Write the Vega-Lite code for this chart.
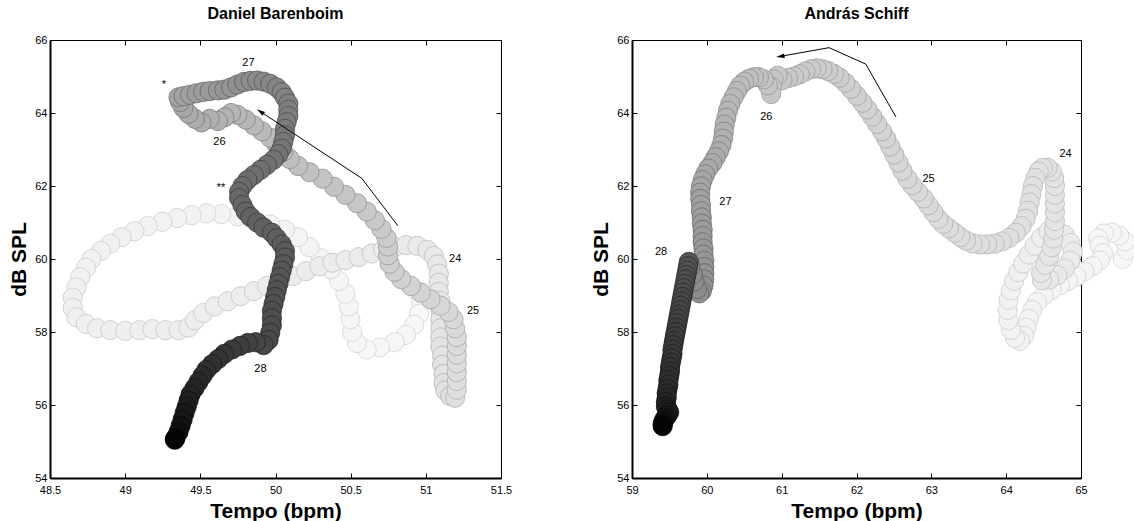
{
 "$schema": "https://vega.github.io/schema/vega-lite/v6.json",
 "background": "white",
 "padding": {"left": 8, "right": 0, "top": 5, "bottom": 0},
 "spacing": 77,
 "resolve": {"scale": {"x": "independent", "y": "independent", "fill": "independent", "stroke": "independent"}},
 "config": {
  "font": "Liberation Sans",
  "view": {"stroke": "#000", "strokeWidth": 1},
  "title": {"fontSize": 16, "fontWeight": "bold", "color": "#000", "offset": 12, "anchor": "middle", "font": "Liberation Sans"},
  "axis": {"grid": false, "domainColor": "#000", "domainWidth": 2, "tickColor": "#000", "tickWidth": 1, "tickSize": -5, "labelPadding": 8, "labelFontSize": 11, "labelColor": "#000", "labelFlush": false, "labelOverlap": false, "labelFont": "Liberation Sans", "titleFont": "Liberation Sans", "titleFontSize": 21, "titleFontWeight": "bold", "titleColor": "#000", "titlePadding": 5},
  "axisX": {"labelPadding": 11}
 },
 "datasets": {
  "B": [
   {"t":23.00,"x":50.944,"y":59.1},{"t":23.02,"x":50.966,"y":58.8},{"t":23.03,"x":50.955,"y":58.5},{"t":23.05,"x":50.923,"y":58.2},{"t":23.06,"x":50.868,"y":57.92},{"t":23.08,"x":50.792,"y":57.72},{"t":23.09,"x":50.694,"y":57.58},{"t":23.11,"x":50.607,"y":57.52},{"t":23.12,"x":50.542,"y":57.7},{"t":23.14,"x":50.509,"y":58.0},{"t":23.16,"x":50.498,"y":58.35},{"t":23.17,"x":50.487,"y":58.7},{"t":23.19,"x":50.465,"y":59.05},{"t":23.2,"x":50.422,"y":59.4},{"t":23.22,"x":50.368,"y":59.72},{"t":23.24,"x":50.302,"y":60.02},{"t":23.25,"x":50.226,"y":60.32},{"t":23.27,"x":50.15,"y":60.6},{"t":23.28,"x":50.063,"y":60.8},{"t":23.3,"x":49.965,"y":60.95},{"t":23.31,"x":49.856,"y":61.07},{"t":23.33,"x":49.747,"y":61.17},{"t":23.35,"x":49.638,"y":61.23},{"t":23.36,"x":49.54,"y":61.25},{"t":23.38,"x":49.442,"y":61.2},{"t":23.39,"x":49.345,"y":61.12},{"t":23.41,"x":49.247,"y":61.02},{"t":23.43,"x":49.149,"y":60.9},{"t":23.44,"x":49.062,"y":60.76},{"t":23.46,"x":48.976,"y":60.6},{"t":23.47,"x":48.901,"y":60.42},{"t":23.49,"x":48.839,"y":60.22},{"t":23.5,"x":48.776,"y":60.0},{"t":23.52,"x":48.739,"y":59.76},{"t":23.54,"x":48.701,"y":59.5},{"t":23.55,"x":48.676,"y":59.22},{"t":23.57,"x":48.651,"y":58.94},{"t":23.58,"x":48.651,"y":58.66},{"t":23.6,"x":48.676,"y":58.4},{"t":23.62,"x":48.739,"y":58.22},{"t":23.63,"x":48.813,"y":58.1},{"t":23.65,"x":48.901,"y":58.05},{"t":23.66,"x":49.001,"y":58.03},{"t":23.68,"x":49.094,"y":58.05},{"t":23.69,"x":49.181,"y":58.08},{"t":23.71,"x":49.268,"y":58.05},{"t":23.73,"x":49.355,"y":58.05},{"t":23.74,"x":49.421,"y":58.12},{"t":23.76,"x":49.464,"y":58.32},{"t":23.77,"x":49.519,"y":58.52},{"t":23.79,"x":49.595,"y":58.7},{"t":23.8,"x":49.682,"y":58.84},{"t":23.82,"x":49.769,"y":58.98},{"t":23.84,"x":49.856,"y":59.12},{"t":23.85,"x":49.943,"y":59.26},{"t":23.87,"x":50.03,"y":59.4},{"t":23.88,"x":50.117,"y":59.53},{"t":23.9,"x":50.204,"y":59.67},{"t":23.92,"x":50.291,"y":59.8},{"t":23.93,"x":50.378,"y":59.9},{"t":23.95,"x":50.465,"y":59.97},{"t":23.96,"x":50.553,"y":60.05},{"t":23.98,"x":50.64,"y":60.15},{"t":23.99,"x":50.716,"y":60.25},
   {"t":24.0,"x":50.792,"y":60.33},{"t":24.03,"x":50.868,"y":60.38},{"t":24.06,"x":50.944,"y":60.36},{"t":24.09,"x":51.01,"y":60.25},{"t":24.12,"x":51.053,"y":60.08},{"t":24.15,"x":51.075,"y":59.85},{"t":24.18,"x":51.086,"y":59.6},{"t":24.21,"x":51.086,"y":59.35},{"t":24.24,"x":51.086,"y":59.1},{"t":24.27,"x":51.097,"y":58.85},{"t":24.3,"x":51.097,"y":58.6},{"t":24.33,"x":51.097,"y":58.35},{"t":24.36,"x":51.097,"y":58.1},{"t":24.39,"x":51.097,"y":57.85},{"t":24.42,"x":51.097,"y":57.6},{"t":24.45,"x":51.108,"y":57.35},{"t":24.48,"x":51.108,"y":57.1},{"t":24.51,"x":51.118,"y":56.85},{"t":24.54,"x":51.118,"y":56.6},{"t":24.57,"x":51.129,"y":56.4},{"t":24.6,"x":51.162,"y":56.25},{"t":24.63,"x":51.195,"y":56.2},{"t":24.67,"x":51.206,"y":56.42},{"t":24.71,"x":51.206,"y":56.66},{"t":24.75,"x":51.206,"y":56.9},{"t":24.79,"x":51.206,"y":57.14},{"t":24.83,"x":51.206,"y":57.38},{"t":24.87,"x":51.206,"y":57.62},{"t":24.91,"x":51.206,"y":57.86},{"t":24.95,"x":51.195,"y":58.1},
   {"t":25.0,"x":51.184,"y":58.35},{"t":25.03,"x":51.151,"y":58.55},{"t":25.06,"x":51.097,"y":58.72},{"t":25.1,"x":51.031,"y":58.9},{"t":25.13,"x":50.966,"y":59.08},{"t":25.17,"x":50.901,"y":59.26},{"t":25.2,"x":50.836,"y":59.45},{"t":25.24,"x":50.792,"y":59.65},{"t":25.27,"x":50.759,"y":59.87},{"t":25.3,"x":50.748,"y":60.1},{"t":25.34,"x":50.748,"y":60.34},{"t":25.37,"x":50.738,"y":60.58},{"t":25.41,"x":50.705,"y":60.82},{"t":25.44,"x":50.661,"y":61.06},{"t":25.48,"x":50.607,"y":61.3},{"t":25.51,"x":50.542,"y":61.53},{"t":25.55,"x":50.465,"y":61.76},{"t":25.58,"x":50.389,"y":61.98},{"t":25.62,"x":50.313,"y":62.2},{"t":25.65,"x":50.226,"y":62.38},{"t":25.69,"x":50.15,"y":62.55},{"t":25.72,"x":50.095,"y":62.74},{"t":25.76,"x":50.052,"y":62.94},{"t":25.79,"x":50.008,"y":63.13},{"t":25.83,"x":49.965,"y":63.32},{"t":25.86,"x":49.91,"y":63.5},{"t":25.9,"x":49.856,"y":63.66},{"t":25.93,"x":49.802,"y":63.82},{"t":25.97,"x":49.747,"y":63.95},
   {"t":26.0,"x":49.704,"y":64.0},{"t":26.04,"x":49.66,"y":63.88},{"t":26.08,"x":49.617,"y":63.78},{"t":26.12,"x":49.562,"y":63.84},{"t":26.16,"x":49.508,"y":63.74},{"t":26.2,"x":49.464,"y":63.84},{"t":26.25,"x":49.421,"y":63.98},{"t":26.3,"x":49.388,"y":64.14},{"t":26.35,"x":49.366,"y":64.3},{"t":26.4,"x":49.355,"y":64.43},{"t":26.45,"x":49.388,"y":64.46},{"t":26.5,"x":49.432,"y":64.5},{"t":26.55,"x":49.475,"y":64.54},{"t":26.6,"x":49.519,"y":64.58},{"t":26.65,"x":49.562,"y":64.6},{"t":26.7,"x":49.617,"y":64.62},{"t":26.75,"x":49.66,"y":64.64},{"t":26.8,"x":49.704,"y":64.7},{"t":26.87,"x":49.747,"y":64.78},{"t":26.94,"x":49.791,"y":64.85},
   {"t":27.0,"x":49.834,"y":64.88},{"t":27.02,"x":49.878,"y":64.89},{"t":27.04,"x":49.921,"y":64.86},{"t":27.07,"x":49.965,"y":64.8},{"t":27.09,"x":50.008,"y":64.7},{"t":27.11,"x":50.041,"y":64.57},{"t":27.13,"x":50.063,"y":64.42},{"t":27.15,"x":50.085,"y":64.26},{"t":27.17,"x":50.085,"y":64.09},{"t":27.2,"x":50.085,"y":63.92},{"t":27.22,"x":50.074,"y":63.75},{"t":27.24,"x":50.063,"y":63.57},{"t":27.26,"x":50.063,"y":63.39},{"t":27.28,"x":50.052,"y":63.21},{"t":27.3,"x":50.041,"y":63.03},{"t":27.33,"x":50.019,"y":62.87},{"t":27.35,"x":49.987,"y":62.72},{"t":27.37,"x":49.943,"y":62.58},{"t":27.39,"x":49.9,"y":62.44},{"t":27.41,"x":49.856,"y":62.3},{"t":27.43,"x":49.813,"y":62.16},{"t":27.46,"x":49.78,"y":62.0},{"t":27.48,"x":49.758,"y":61.84},{"t":27.5,"x":49.758,"y":61.67},{"t":27.52,"x":49.78,"y":61.48},{"t":27.54,"x":49.802,"y":61.3},{"t":27.57,"x":49.834,"y":61.15},{"t":27.59,"x":49.878,"y":61.0},{"t":27.61,"x":49.921,"y":60.86},{"t":27.63,"x":49.976,"y":60.72},{"t":27.65,"x":50.008,"y":60.57},{"t":27.67,"x":50.041,"y":60.4},{"t":27.7,"x":50.063,"y":60.22},{"t":27.72,"x":50.063,"y":60.04},{"t":27.74,"x":50.052,"y":59.86},{"t":27.76,"x":50.041,"y":59.68},{"t":27.78,"x":50.03,"y":59.5},{"t":27.8,"x":50.019,"y":59.32},{"t":27.83,"x":50.008,"y":59.14},{"t":27.85,"x":49.998,"y":58.96},{"t":27.87,"x":49.987,"y":58.77},{"t":27.89,"x":49.976,"y":58.58},{"t":27.91,"x":49.976,"y":58.38},{"t":27.93,"x":49.976,"y":58.18},{"t":27.96,"x":49.965,"y":57.98},{"t":27.98,"x":49.954,"y":57.78},
   {"t":28.0,"x":49.921,"y":57.64},{"t":28.05,"x":49.869,"y":57.72},{"t":28.1,"x":49.816,"y":57.7},{"t":28.15,"x":49.764,"y":57.62},{"t":28.2,"x":49.711,"y":57.52},{"t":28.25,"x":49.659,"y":57.4},{"t":28.3,"x":49.619,"y":57.26},{"t":28.35,"x":49.579,"y":57.12},{"t":28.4,"x":49.54,"y":56.96},{"t":28.45,"x":49.514,"y":56.8},{"t":28.5,"x":49.487,"y":56.63},{"t":28.55,"x":49.461,"y":56.46},{"t":28.6,"x":49.435,"y":56.29},{"t":28.65,"x":49.422,"y":56.12},{"t":28.7,"x":49.409,"y":55.95},{"t":28.75,"x":49.395,"y":55.78},{"t":28.8,"x":49.382,"y":55.6},{"t":28.85,"x":49.369,"y":55.43},{"t":28.9,"x":49.355,"y":55.26},{"t":28.95,"x":49.335,"y":55.1},{"t":29.0,"x":49.33,"y":55.05}
  ],
  "S": [
   {"t":23.0,"x":65.557,"y":60.0},{"t":23.02,"x":65.611,"y":60.25},{"t":23.04,"x":65.59,"y":60.48},{"t":23.06,"x":65.513,"y":60.64},{"t":23.08,"x":65.415,"y":60.72},{"t":23.1,"x":65.306,"y":60.7},{"t":23.12,"x":65.23,"y":60.56},{"t":23.14,"x":65.252,"y":60.36},{"t":23.16,"x":65.295,"y":60.16},{"t":23.18,"x":65.252,"y":59.96},{"t":23.2,"x":65.154,"y":59.8},{"t":23.22,"x":65.045,"y":59.66},{"t":23.24,"x":64.936,"y":59.52},{"t":23.26,"x":64.827,"y":59.4},{"t":23.28,"x":64.718,"y":59.28},{"t":23.3,"x":64.609,"y":59.15},{"t":23.32,"x":64.5,"y":59.0},{"t":23.34,"x":64.412,"y":58.82},{"t":23.36,"x":64.347,"y":58.6},{"t":23.38,"x":64.303,"y":58.36},{"t":23.4,"x":64.271,"y":58.12},{"t":23.42,"x":64.238,"y":57.9},{"t":23.44,"x":64.184,"y":57.76},{"t":23.46,"x":64.118,"y":57.84},{"t":23.48,"x":64.064,"y":58.06},{"t":23.5,"x":64.031,"y":58.32},{"t":23.52,"x":64.02,"y":58.6},{"t":23.54,"x":64.031,"y":58.88},{"t":23.56,"x":64.064,"y":59.14},{"t":23.58,"x":64.107,"y":59.4},{"t":23.6,"x":64.162,"y":59.64},{"t":23.62,"x":64.227,"y":59.88},{"t":23.64,"x":64.303,"y":60.12},{"t":23.66,"x":64.38,"y":60.36},{"t":23.68,"x":64.467,"y":60.58},{"t":23.7,"x":64.565,"y":60.76},{"t":23.72,"x":64.674,"y":60.8},{"t":23.74,"x":64.783,"y":60.66},{"t":23.76,"x":64.859,"y":60.44},{"t":23.78,"x":64.892,"y":60.2},{"t":23.8,"x":64.859,"y":59.96},{"t":23.83,"x":64.783,"y":59.74},{"t":23.86,"x":64.685,"y":59.56},{"t":23.89,"x":64.576,"y":59.44},{"t":23.92,"x":64.478,"y":59.42},{"t":23.96,"x":64.467,"y":59.62},
   {"t":24.0,"x":64.521,"y":59.84},{"t":24.03,"x":64.576,"y":60.08},{"t":24.06,"x":64.609,"y":60.32},{"t":24.09,"x":64.63,"y":60.56},{"t":24.12,"x":64.641,"y":60.8},{"t":24.15,"x":64.652,"y":61.04},{"t":24.18,"x":64.652,"y":61.28},{"t":24.21,"x":64.652,"y":61.52},{"t":24.24,"x":64.652,"y":61.76},{"t":24.27,"x":64.652,"y":62.0},{"t":24.3,"x":64.641,"y":62.22},{"t":24.33,"x":64.609,"y":62.4},{"t":24.36,"x":64.554,"y":62.5},{"t":24.39,"x":64.489,"y":62.5},{"t":24.42,"x":64.434,"y":62.4},{"t":24.45,"x":64.391,"y":62.22},{"t":24.48,"x":64.358,"y":62.0},{"t":24.51,"x":64.336,"y":61.78},{"t":24.54,"x":64.314,"y":61.55},{"t":24.57,"x":64.293,"y":61.32},{"t":24.6,"x":64.26,"y":61.1},{"t":24.63,"x":64.205,"y":60.9},{"t":24.66,"x":64.129,"y":60.72},{"t":24.69,"x":64.042,"y":60.58},{"t":24.72,"x":63.944,"y":60.48},{"t":24.75,"x":63.846,"y":60.42},{"t":24.78,"x":63.748,"y":60.4},{"t":24.81,"x":63.65,"y":60.4},{"t":24.84,"x":63.551,"y":60.43},{"t":24.87,"x":63.464,"y":60.5},{"t":24.9,"x":63.388,"y":60.6},{"t":24.93,"x":63.312,"y":60.72},{"t":24.96,"x":63.235,"y":60.84},{"t":24.99,"x":63.159,"y":60.96},
   {"t":25.02,"x":63.094,"y":61.1},{"t":25.05,"x":63.028,"y":61.28},{"t":25.08,"x":62.963,"y":61.47},{"t":25.11,"x":62.897,"y":61.66},{"t":25.14,"x":62.821,"y":61.84},{"t":25.17,"x":62.745,"y":62.02},{"t":25.2,"x":62.68,"y":62.2},{"t":25.23,"x":62.614,"y":62.42},{"t":25.26,"x":62.56,"y":62.64},{"t":25.29,"x":62.505,"y":62.86},{"t":25.32,"x":62.451,"y":63.08},{"t":25.35,"x":62.396,"y":63.3},{"t":25.38,"x":62.342,"y":63.5},{"t":25.41,"x":62.276,"y":63.7},{"t":25.44,"x":62.211,"y":63.9},{"t":25.47,"x":62.145,"y":64.1},{"t":25.5,"x":62.08,"y":64.28},{"t":25.53,"x":62.004,"y":64.47},{"t":25.56,"x":61.927,"y":64.66},{"t":25.59,"x":61.851,"y":64.83},{"t":25.62,"x":61.775,"y":64.97},{"t":25.65,"x":61.699,"y":65.07},{"t":25.68,"x":61.622,"y":65.15},{"t":25.71,"x":61.546,"y":65.2},{"t":25.74,"x":61.47,"y":65.22},{"t":25.77,"x":61.393,"y":65.2},{"t":25.8,"x":61.317,"y":65.14},{"t":25.83,"x":61.241,"y":65.06},{"t":25.86,"x":61.165,"y":65.0},{"t":25.89,"x":61.088,"y":64.96},{"t":25.91,"x":61.012,"y":64.9},{"t":25.93,"x":60.947,"y":65.02},{"t":25.95,"x":60.892,"y":64.92},{"t":25.97,"x":60.87,"y":64.72},{"t":26.0,"x":60.859,"y":64.52},
   {"t":26.04,"x":60.816,"y":64.76},{"t":26.08,"x":60.761,"y":64.92},{"t":26.12,"x":60.696,"y":64.98},{"t":26.16,"x":60.631,"y":64.98},{"t":26.2,"x":60.565,"y":64.94},{"t":26.24,"x":60.5,"y":64.86},{"t":26.28,"x":60.445,"y":64.75},{"t":26.32,"x":60.402,"y":64.6},{"t":26.36,"x":60.358,"y":64.43},{"t":26.4,"x":60.314,"y":64.25},{"t":26.44,"x":60.282,"y":64.06},{"t":26.48,"x":60.26,"y":63.87},{"t":26.52,"x":60.238,"y":63.68},{"t":26.56,"x":60.227,"y":63.49},{"t":26.6,"x":60.216,"y":63.3},{"t":26.64,"x":60.195,"y":63.12},{"t":26.68,"x":60.162,"y":62.95},{"t":26.72,"x":60.118,"y":62.79},{"t":26.76,"x":60.075,"y":62.63},{"t":26.8,"x":60.02,"y":62.48},{"t":26.84,"x":59.977,"y":62.32},{"t":26.88,"x":59.944,"y":62.16},{"t":26.92,"x":59.922,"y":61.99},{"t":26.96,"x":59.911,"y":61.82},
   {"t":27.0,"x":59.911,"y":61.65},{"t":27.05,"x":59.922,"y":61.48},{"t":27.1,"x":59.922,"y":61.31},{"t":27.15,"x":59.933,"y":61.14},{"t":27.2,"x":59.933,"y":60.97},{"t":27.25,"x":59.944,"y":60.8},{"t":27.3,"x":59.944,"y":60.63},{"t":27.35,"x":59.944,"y":60.46},{"t":27.4,"x":59.955,"y":60.29},{"t":27.45,"x":59.955,"y":60.12},{"t":27.5,"x":59.966,"y":59.95},{"t":27.55,"x":59.966,"y":59.78},{"t":27.6,"x":59.966,"y":59.61},{"t":27.65,"x":59.966,"y":59.44},{"t":27.7,"x":59.955,"y":59.27},{"t":27.75,"x":59.933,"y":59.12},{"t":27.8,"x":59.9,"y":59.06},{"t":27.85,"x":59.868,"y":59.18},{"t":27.9,"x":59.835,"y":59.38},{"t":27.95,"x":59.813,"y":59.58},{"t":27.98,"x":59.78,"y":59.78},
   {"t":28.0,"x":59.759,"y":59.92},{"t":28.02,"x":59.748,"y":59.8},{"t":28.04,"x":59.737,"y":59.68},{"t":28.06,"x":59.726,"y":59.56},{"t":28.08,"x":59.715,"y":59.44},{"t":28.1,"x":59.704,"y":59.32},{"t":28.12,"x":59.693,"y":59.2},{"t":28.14,"x":59.682,"y":59.08},{"t":28.16,"x":59.671,"y":58.96},{"t":28.18,"x":59.66,"y":58.84},{"t":28.2,"x":59.65,"y":58.72},{"t":28.22,"x":59.639,"y":58.6},{"t":28.24,"x":59.628,"y":58.48},{"t":28.26,"x":59.617,"y":58.36},{"t":28.28,"x":59.606,"y":58.24},{"t":28.3,"x":59.595,"y":58.12},{"t":28.32,"x":59.584,"y":58.0},{"t":28.34,"x":59.573,"y":57.88},{"t":28.36,"x":59.562,"y":57.76},{"t":28.38,"x":59.552,"y":57.64},{"t":28.4,"x":59.541,"y":57.52},{"t":28.42,"x":59.541,"y":57.4},{"t":28.44,"x":59.53,"y":57.28},{"t":28.46,"x":59.519,"y":57.16},{"t":28.48,"x":59.508,"y":57.04},{"t":28.5,"x":59.508,"y":56.92},{"t":28.52,"x":59.497,"y":56.8},{"t":28.54,"x":59.486,"y":56.68},{"t":28.56,"x":59.486,"y":56.56},{"t":28.58,"x":59.475,"y":56.44},{"t":28.6,"x":59.464,"y":56.32},{"t":28.63,"x":59.464,"y":56.2},{"t":28.66,"x":59.453,"y":56.08},{"t":28.7,"x":59.453,"y":55.96},{"t":28.74,"x":59.475,"y":55.88},{"t":28.78,"x":59.497,"y":55.8},{"t":28.82,"x":59.475,"y":55.72},{"t":28.86,"x":59.443,"y":55.64},{"t":28.9,"x":59.421,"y":55.56},{"t":28.95,"x":59.41,"y":55.48},{"t":29.0,"x":59.41,"y":55.42}
  ],
  "BL": [
   {"label":"24","x":51.195,"y":60.0},{"label":"25","x":51.314,"y":58.57},{"label":"26","x":49.627,"y":63.2},{"label":"27","x":49.82,"y":65.38},{"label":"28","x":49.9,"y":56.98},{"label":"*","x":49.258,"y":64.78},{"label":"**","x":49.638,"y":61.95}
  ],
  "SL": [
   {"label":"24","x":64.794,"y":62.89},{"label":"25","x":62.963,"y":62.19},{"label":"26","x":60.794,"y":63.89},{"label":"27","x":60.249,"y":61.56},{"label":"28","x":59.388,"y":60.2}
  ],
  "BA": [
   {"o":1,"x":50.814,"y":60.91},{"o":2,"x":50.574,"y":62.21},{"o":3,"x":49.921,"y":63.98}
  ],
  "SA": [
   {"o":1,"x":62.527,"y":63.89},{"o":2,"x":62.124,"y":65.34},{"o":3,"x":61.633,"y":65.79},{"o":4,"x":61.034,"y":65.57}
  ],
  "BH": [{"x":49.899,"y":64.04}],
  "SH": [{"x":60.982,"y":65.551}]
 },
 "hconcat": [
  {
   "title": "Daniel Barenboim",
   "width": 451,
   "height": 438,
   "resolve": {"axis": {"x": "independent", "y": "independent"}},
   "layer": [
    {
     "data": {"name": "B"},
     "mark": {"type": "point", "shape": "circle", "filled": true, "opacity": 1, "size": 370, "strokeWidth": 0.8},
     "encoding": {
      "x": {"field": "x", "type": "quantitative", "scale": {"domain": [48.5, 51.5], "nice": false, "zero": false}, "axis": {"orient": "bottom", "values": [48.5, 49, 49.5, 50, 50.5, 51, 51.5], "format": "~g", "title": "Tempo (bpm)"}},
      "y": {"field": "y", "type": "quantitative", "scale": {"domain": [54, 66], "nice": false, "zero": false}, "axis": {"orient": "left", "values": [54, 56, 58, 60, 62, 64, 66], "title": "dB SPL"}},
      "fill": {"field": "t", "type": "quantitative", "legend": null, "scale": {"domain": [23, 23.5, 24, 25, 26, 27, 27.5, 28, 29], "range": ["#f7f7f7", "#f1f1f1", "#ebebeb", "#d9d9d9", "#b5b5b5", "#8c8c8c", "#686868", "#484848", "#050505"], "clamp": true}},
      "stroke": {"field": "t", "type": "quantitative", "legend": null, "scale": {"domain": [23, 23.5, 24, 25, 26, 27, 27.5, 28, 29], "range": ["#d5d5d5", "#cccccc", "#c0c0c0", "#a6a6a6", "#808080", "#5a5a5a", "#3c3c3c", "#262626", "#000000"], "clamp": true}}
     }
    },
    {
     "data": {"name": "BA"},
     "mark": {"type": "line", "color": "#000", "strokeWidth": 1},
     "encoding": {
      "x": {"field": "x", "type": "quantitative", "axis": null},
      "y": {"field": "y", "type": "quantitative", "axis": null},
      "order": {"field": "o"}
     }
    },
    {
     "data": {"name": "BH"},
     "mark": {"type": "point", "shape": "M0,-1L0.55,1L-0.55,1Z", "filled": true, "color": "#000", "opacity": 1, "size": 70, "angle": 303, "strokeWidth": 0},
     "encoding": {
      "x": {"field": "x", "type": "quantitative", "axis": null},
      "y": {"field": "y", "type": "quantitative", "axis": null}
     }
    },
    {
     "data": {"name": "BL"},
     "mark": {"type": "text", "fontSize": 11, "font": "Liberation Sans", "color": "#000", "align": "center", "baseline": "middle"},
     "encoding": {
      "x": {"field": "x", "type": "quantitative", "axis": {"orient": "top", "labels": false, "title": null, "domain": false, "values": [48.5, 49, 49.5, 50, 50.5, 51, 51.5]}},
      "y": {"field": "y", "type": "quantitative", "axis": {"orient": "right", "labels": false, "title": null, "domain": false, "values": [54, 56, 58, 60, 62, 64, 66]}},
      "text": {"field": "label"}
     }
    }
   ]
  },
  {
   "title": "András Schiff",
   "width": 449,
   "height": 438,
   "resolve": {"axis": {"x": "independent", "y": "independent"}},
   "layer": [
    {
     "data": {"name": "S"},
     "mark": {"type": "point", "shape": "circle", "filled": true, "opacity": 1, "size": 370, "strokeWidth": 0.8},
     "encoding": {
      "x": {"field": "x", "type": "quantitative", "scale": {"domain": [59, 65], "nice": false, "zero": false}, "axis": {"orient": "bottom", "values": [59, 60, 61, 62, 63, 64, 65], "format": "~g", "title": "Tempo (bpm)"}},
      "y": {"field": "y", "type": "quantitative", "scale": {"domain": [54, 66], "nice": false, "zero": false}, "axis": {"orient": "left", "values": [54, 56, 58, 60, 62, 64, 66], "title": "dB SPL"}},
      "fill": {"field": "t", "type": "quantitative", "legend": null, "scale": {"domain": [23, 23.5, 24, 25, 26, 27, 27.98, 28, 28.5, 29], "range": ["#f7f7f7", "#f2f2f2", "#e6e6e6", "#dcdcdc", "#c6c6c6", "#a2a2a2", "#8a8a8a", "#555555", "#333333", "#050505"], "clamp": true}},
      "stroke": {"field": "t", "type": "quantitative", "legend": null, "scale": {"domain": [23, 23.5, 24, 25, 26, 27, 27.98, 28, 28.5, 29], "range": ["#d5d5d5", "#cdcdcd", "#bdbdbd", "#b0b0b0", "#999999", "#707070", "#5e5e5e", "#2e2e2e", "#1a1a1a", "#000000"], "clamp": true}}
     }
    },
    {
     "data": {"name": "SA"},
     "mark": {"type": "line", "color": "#000", "strokeWidth": 1},
     "encoding": {
      "x": {"field": "x", "type": "quantitative", "axis": null},
      "y": {"field": "y", "type": "quantitative", "axis": null},
      "order": {"field": "o"}
     }
    },
    {
     "data": {"name": "SH"},
     "mark": {"type": "point", "shape": "M0,-1L0.55,1L-0.55,1Z", "filled": true, "color": "#000", "opacity": 1, "size": 70, "angle": 260, "strokeWidth": 0},
     "encoding": {
      "x": {"field": "x", "type": "quantitative", "axis": null},
      "y": {"field": "y", "type": "quantitative", "axis": null}
     }
    },
    {
     "data": {"name": "SL"},
     "mark": {"type": "text", "fontSize": 11, "font": "Liberation Sans", "color": "#000", "align": "center", "baseline": "middle"},
     "encoding": {
      "x": {"field": "x", "type": "quantitative", "axis": {"orient": "top", "labels": false, "title": null, "domain": false, "values": [59, 60, 61, 62, 63, 64, 65]}},
      "y": {"field": "y", "type": "quantitative", "axis": {"orient": "right", "labels": false, "title": null, "domain": false, "values": [54, 56, 58, 60, 62, 64, 66]}},
      "text": {"field": "label"}
     }
    }
   ]
  }
 ]
}
